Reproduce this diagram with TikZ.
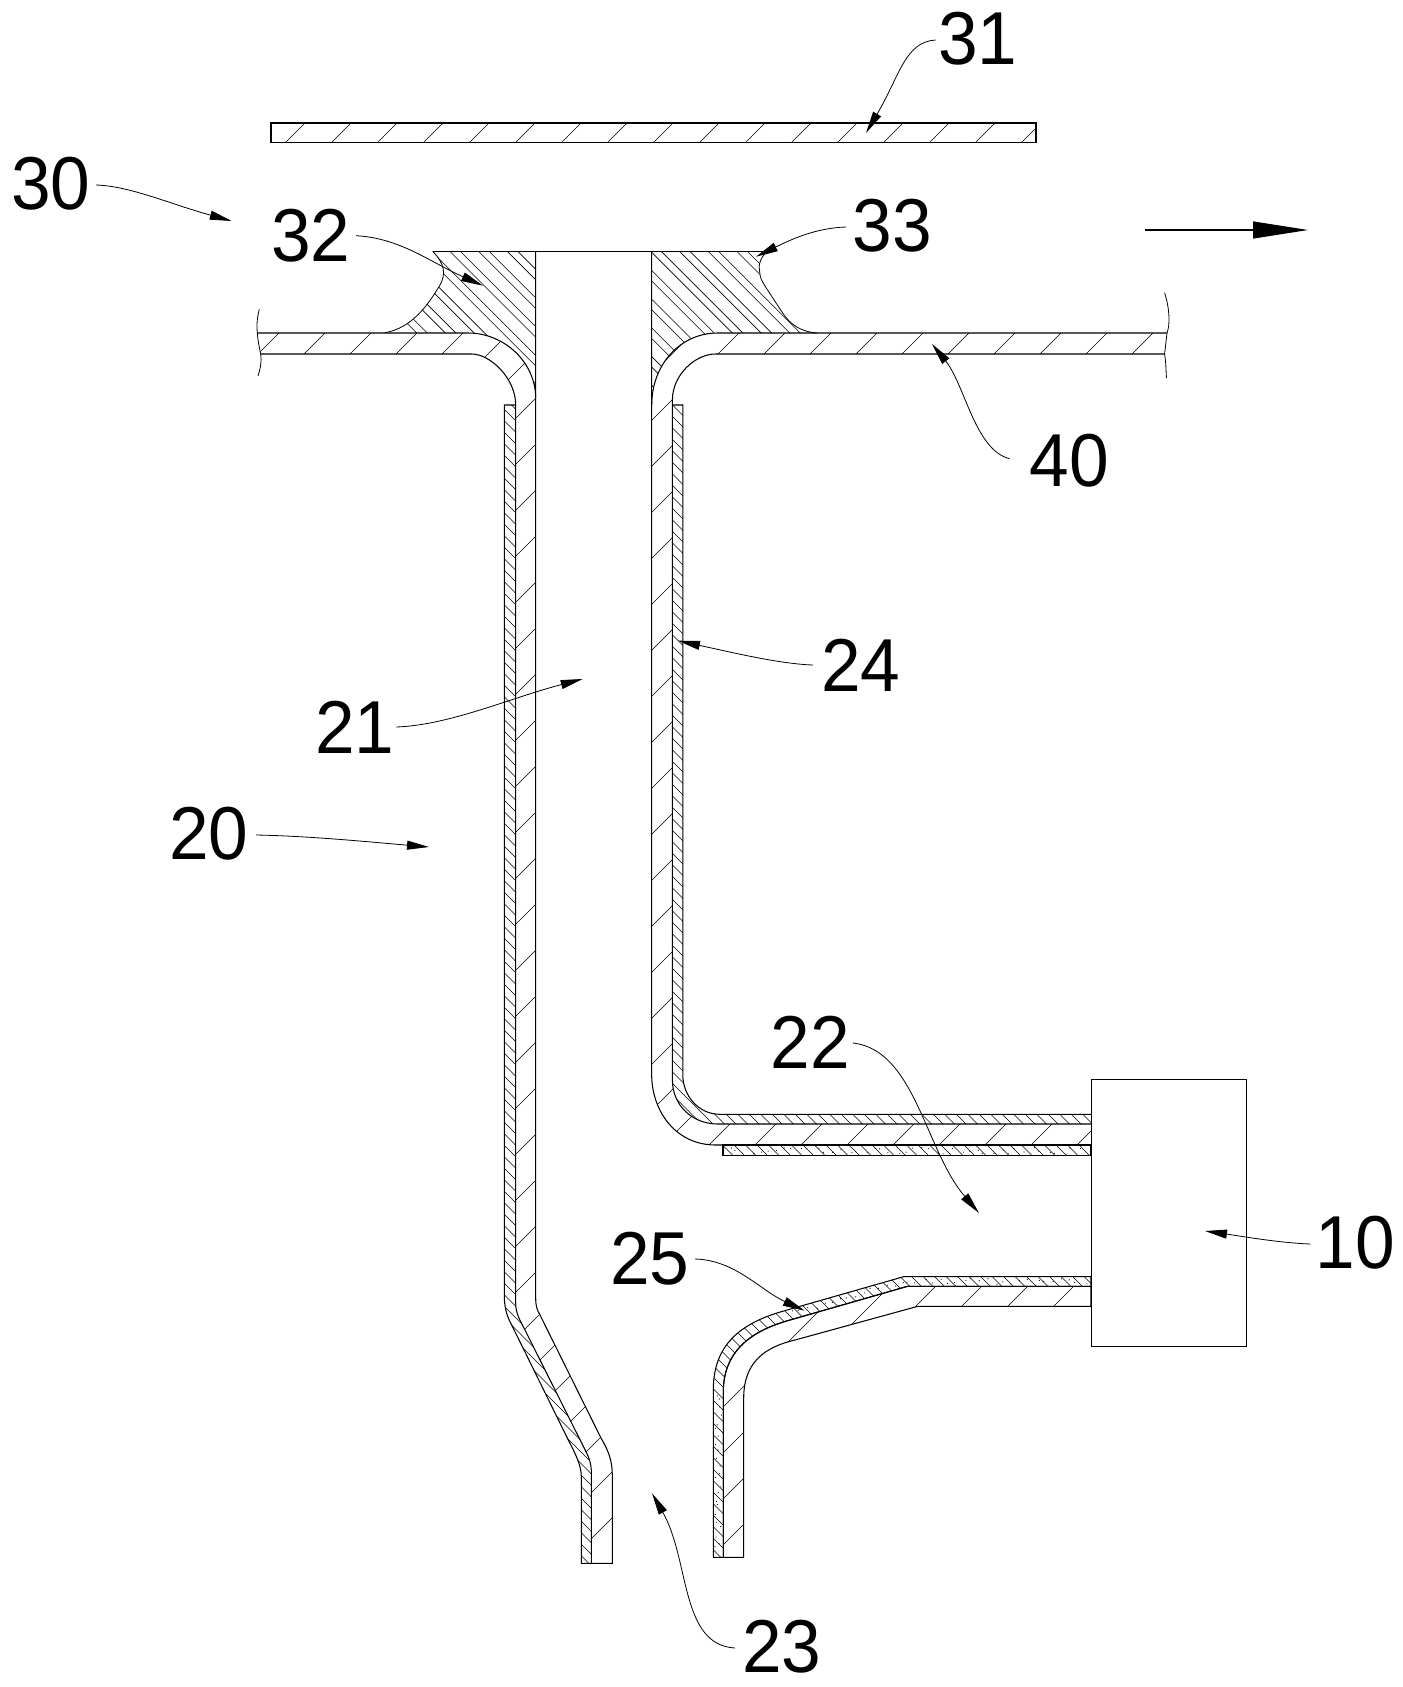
\documentclass[tikz,border=0pt]{standalone}
\usepackage{fontspec}
\setmainfont[FakeStretch=0.95]{Liberation Sans}
\usetikzlibrary{arrows.meta}
\tikzset{
  outline/.style={draw=black,line width=1.05pt,line join=miter},
  thinline/.style={draw=black,line width=0.8pt},
  hatchline/.style={draw=black,line width=0.6pt},
  numlabel/.style={inner sep=0pt,outer sep=0pt,font=\fontsize{75}{75}\selectfont},
  leader/.style={draw=black,line width=0.8pt,-{Triangle[length=22pt,width=9pt]}},
}
\newcommand\fwdhatch[1]{\begin{scope}\clip #1;\foreach \c in {428,474,...,2820}{\draw[hatchline] (\c,0) -- (\c-1700,1700);}\end{scope}}
\newcommand\bckhatch[1]{\begin{scope}\clip #1;\foreach \c in {-1400,-1388.5,...,700}{\draw[hatchline] (\c,0) -- (\c+1700,1700);}\end{scope}}
\newcommand\pairhatch[1]{\begin{scope}\clip #1;\foreach \k in {-11,...,8}{\draw[hatchline] (399.4+28.7*\k,0) -- (2099.4+28.7*\k,1700);\draw[hatchline] (409.9+28.7*\k,0) -- (2109.9+28.7*\k,1700);}\end{scope}}
% bodies
\def\PlateTop{(271,123) rectangle (1036,142.5)}
\def\BodyLeft{(257,333) -- (468,333) .. controls (505,333) and (535.7,363) .. (535.7,398) -- (535.7,1298) .. controls (535.7,1306) and (537,1310) .. (540,1315) -- (601,1438) .. controls (608,1450) and (612.3,1460) .. (612.3,1475) -- (612.3,1563.3) -- (591.3,1563.3) -- (591.3,1470) .. controls (591,1463) and (589,1458) .. (586.7,1453) -- (525,1330) .. controls (520,1320) and (515.7,1314) .. (515.7,1303) -- (515.7,405) .. controls (515.7,378) and (490,354) .. (471.7,354) -- (260.7,354) -- cycle}
\def\BodyRight{(1167,333) -- (717.6,333) .. controls (680,333) and (651.7,365) .. (651.7,405) -- (651.7,1073) .. controls (651,1110) and (675,1145) .. (715.7,1145) -- (1091,1145) -- (1091,1124) -- (717.8,1124) .. controls (692,1124) and (672.4,1105) .. (672.4,1080) -- (672.4,400) .. controls (672.4,375) and (695,354) .. (715.7,354) -- (1164.6,354) -- cycle}
\def\BodyLow{(1091,1286.3) -- (907.5,1286.3) -- (790,1320) .. controls (750,1331) and (723.3,1352) .. (723.3,1392) -- (723.3,1557.3) -- (743.7,1557.3) -- (743.7,1398) .. controls (743.7,1362) and (765,1347) .. (795,1340) -- (917.8,1306.3) -- (1091,1306.3) -- cycle}
\def\CoatLeft{(504.3,405) -- (515.7,405) -- (515.7,1303) .. controls (515.7,1314) and (520,1320) .. (525,1330) -- (586.7,1453) .. controls (589,1458) and (591,1463) .. (591.3,1470) -- (591.3,1563.3) -- (581.3,1563.3) -- (581.3,1476) .. controls (581,1465) and (576,1455) .. (568.3,1440) -- (511.7,1325) .. controls (506,1315) and (504.3,1305) .. (504.3,1296) -- cycle}
\def\CoatRight{(672.4,405) -- (682.8,405) -- (682.8,1075) .. controls (682.8,1095) and (698,1114.3) .. (720,1114.3) -- (1091,1114.3) -- (1091,1124) -- (717.8,1124) .. controls (692,1124) and (672.4,1105) .. (672.4,1080) -- cycle}
\def\CoatUnder{(723,1145) rectangle (1091,1155.3)}
\def\CoatLow{(1091,1276.7) -- (903.5,1276.7) -- (785,1310.6) .. controls (740,1323) and (713.3,1345) .. (713.3,1390) -- (713.3,1557.3) -- (723.3,1557.3) -- (723.3,1392) .. controls (723.3,1352) and (750,1331) .. (790,1320) -- (907.5,1286.3) -- (1091,1286.3) -- cycle}
\def\FilletLeft{(432.7,251.3) -- (535.7,251.3) -- (535.7,398) .. controls (535.7,363) and (505,333) .. (468,333) -- (385,332.7) .. controls (412,328) and (428,305) .. (440,285) .. controls (446,274) and (445,264) .. (432.7,251.3) -- cycle}
\def\FilletRight{(651.7,251.3) -- (767,251.3) .. controls (760,258) and (758,266) .. (759.7,272) .. controls (760,278) and (762,281) .. (765.4,286.7) -- (782,312) .. controls (790,325) and (802,332) .. (817,333) -- (717.6,333) .. controls (680,333) and (651.7,365) .. (651.7,405) -- cycle}
\begin{document}
\begin{tikzpicture}[x=1pt,y=-1pt]
\useasboundingbox (0,0) rectangle (1403,1687);
% hatching
\fwdhatch{\PlateTop}
\fwdhatch{\BodyLeft}
\fwdhatch{\BodyRight}
\fwdhatch{\BodyLow}
\bckhatch{\CoatLeft}
\bckhatch{\CoatRight}
\bckhatch{\CoatUnder}
\bckhatch{\CoatLow}
\pairhatch{\FilletLeft}
\pairhatch{\FilletRight}
% dots in the two lower coatings
\pgfmathsetseed{7}
\foreach \i in {0,...,44}{\pgfmathsetmacro\xx{726+\i*8+rnd*6}\pgfmathsetmacro\yy{1147+rnd*7}\fill[black] (\xx,\yy) circle[radius=0.6];}
\foreach \i in {0,...,22}{\pgfmathsetmacro\xx{906+\i*8+rnd*6}\pgfmathsetmacro\yy{1278.5+rnd*6}\fill[black] (\xx,\yy) circle[radius=0.6];}
\foreach \i in {0,...,14}{\pgfmathsetmacro\xx{790+\i*8+rnd*4}\pgfmathsetmacro\yy{1278.5+(903.5-\xx)*0.287+rnd*6}\fill[black] (\xx,\yy) circle[radius=0.6];}
\foreach \i in {0,...,22}{\pgfmathsetmacro\xx{715+rnd*7}\pgfmathsetmacro\yy{1392+\i*7+rnd*5}\fill[black] (\xx,\yy) circle[radius=0.6];}
% outlines
\draw[outline] \PlateTop;
\draw[outline] (432.7,251.3) -- (767,251.3);
\draw[thinline] (432.7,251.3) .. controls (445,264) and (446,274) .. (440,285) .. controls (428,305) and (412,328) .. (385,332.7);
\draw[thinline] (767,251.3) .. controls (760,258) and (758,266) .. (759.7,272) .. controls (760,278) and (762,281) .. (765.4,286.7) -- (782,312) .. controls (790,325) and (802,332) .. (817,333);
\draw[outline] (257,333) -- (468,333) .. controls (505,333) and (535.7,363) .. (535.7,398);
\draw[outline] (535.7,251.3) -- (535.7,1298) .. controls (535.7,1306) and (537,1310) .. (540,1315) -- (601,1438) .. controls (608,1450) and (612.3,1460) .. (612.3,1475) -- (612.3,1563.3) -- (581.3,1563.3) -- (581.3,1476) .. controls (581,1465) and (576,1455) .. (568.3,1440) -- (511.7,1325) .. controls (506,1315) and (504.3,1305) .. (504.3,1296) -- (504.3,405) -- (515.7,405);
\draw[outline] (260.7,354) -- (471.7,354) .. controls (490,354) and (515.7,378) .. (515.7,405) -- (515.7,1303) .. controls (515.7,1314) and (520,1320) .. (525,1330) -- (586.7,1453) .. controls (589,1458) and (591,1463) .. (591.3,1470) -- (591.3,1563.3);
\draw[outline] (1167,333) -- (717.6,333) .. controls (680,333) and (651.7,365) .. (651.7,405);
\draw[outline] (651.7,251.3) -- (651.7,1073) .. controls (651,1110) and (675,1145) .. (715.7,1145) -- (1091,1145);
\draw[outline] (1164.6,354) -- (715.7,354) .. controls (695,354) and (672.4,375) .. (672.4,400) -- (672.4,1080) .. controls (672.4,1105) and (692,1124) .. (717.8,1124) -- (1091,1124);
\draw[outline] (672.4,405) -- (682.8,405) -- (682.8,1075) .. controls (682.8,1095) and (698,1114.3) .. (720,1114.3) -- (1091,1114.3);
\draw[outline] \CoatUnder;
\draw[outline] \BodyLow;
\draw[outline] \CoatLow;
% break lines
\draw[thinline] (259.3,309.3) .. controls (256,322) and (256,332) .. (260.7,354.3) .. controls (262,362) and (260,370) .. (258,376);
\draw[thinline] (1164.6,292.7) .. controls (1170,310) and (1170,325) .. (1167,333) -- (1164.6,354) .. controls (1166,362) and (1166,372) .. (1166.5,378);
% unit 10 box
\node[draw=black,line width=1.05pt,inner sep=0pt,minimum width=154.5pt,minimum height=266.7pt,anchor=north west] (unit) at (1091,1079.3) {};
% labels
\node[numlabel] (l31) at (978,39) {31};
\node[numlabel] (l30) at (51,184) {30};
\node[numlabel] (l32) at (311,236) {32};
\node[numlabel] (l33) at (892.5,226) {33};
\node[numlabel] (l40) at (1069,461) {40};
\node[numlabel] (l24) at (861,665) {24};
\node[numlabel] (l21) at (355,727) {21};
\node[numlabel] (l20) at (208.7,834) {20};
\node[numlabel] (l22) at (810.5,1042) {22};
\node[numlabel] (l25) at (650,1259) {25};
\node[numlabel] (l10) at (1355,1243) {10};
\node[numlabel] (l23) at (782,1647) {23};
% leader tips
\coordinate (t31) at (866,133);
\coordinate (t30) at (231.7,221);
\coordinate (t32) at (483,285.7);
\coordinate (t33) at (756,256.7);
\coordinate (t40) at (932,344);
\coordinate (t24) at (678,640.7);
\coordinate (t21) at (582.7,679);
\coordinate (t20) at (429,847);
\coordinate (t22) at (979,1213);
\coordinate (t25) at (804.7,1310.7);
\coordinate (t10) at (1205,1231);
\coordinate (t23) at (652,1493.3);
\coordinate (flowa) at (1145,230);
\coordinate (flowb) at (1308,230);
% leaders
\draw[leader] (935.5,40) .. controls (905,42) and (900,75) .. (t31);
\draw[leader] (96,185) .. controls (130,186) and (170,204) .. (t30);
\draw[leader] (356,235.7) .. controls (400,238) and (430,262) .. (t32);
\draw[leader] (846,227) .. controls (815,228) and (790,240) .. (t33);
\draw[leader] (1009.6,458.7) .. controls (975,450) and (965,385) .. (t40);
\draw[leader] (813,665) .. controls (780,664) and (730,652) .. (t24);
\draw[leader] (396.4,727) .. controls (450,725) and (510,698) .. (t21);
\draw[leader] (256,835) .. controls (310,836) and (370,842) .. (t20);
\draw[leader] (853,1043) .. controls (915,1050) and (925,1150) .. (t22);
\draw[leader] (695,1259) .. controls (735,1260) and (760,1290) .. (t25);
\draw[leader] (1310.7,1244) .. controls (1280,1243) and (1240,1236) .. (t10);
\draw[leader] (735,1648) .. controls (680,1645) and (690,1560) .. (t23);
\draw[draw=black,line width=1.05pt,-{Triangle[length=55pt,width=17pt]}] (flowa) -- (flowb);
\end{tikzpicture}
\end{document}
